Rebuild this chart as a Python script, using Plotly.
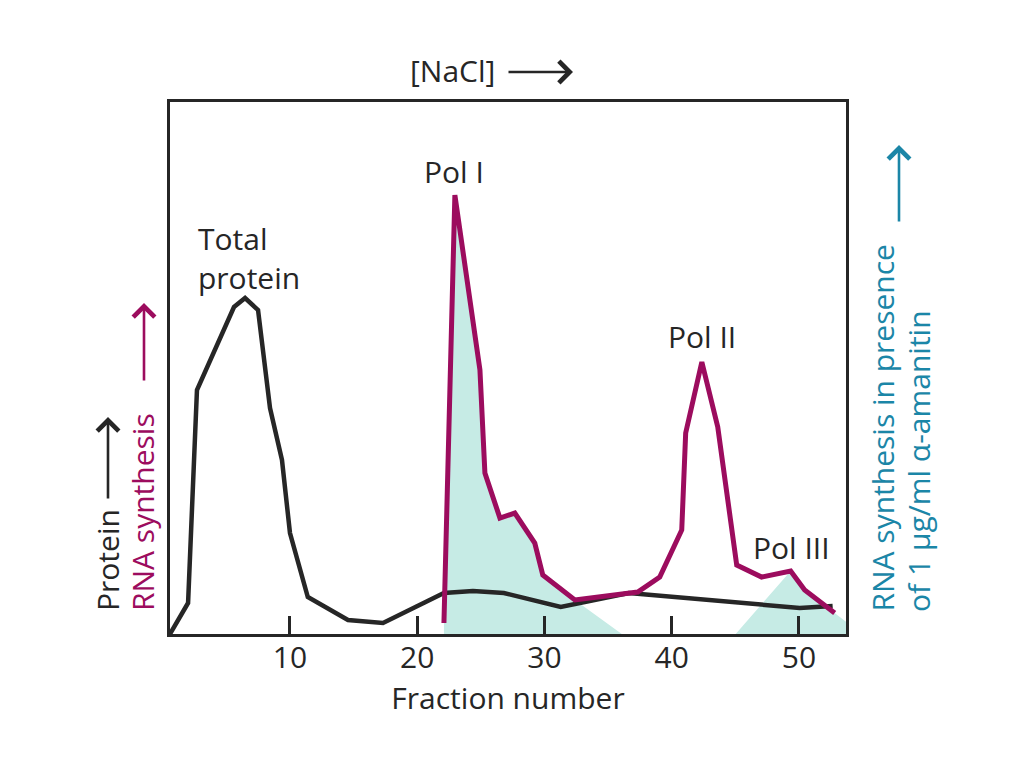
import plotly.graph_objects as go

# ---- data ----
protein_x = [0.57, 1.99, 2.69, 5.6, 6.47, 7.49, 8.43, 9.37, 10.0, 11.4, 14.56, 17.31,
             22.1, 24.38, 26.81, 31.28, 36.63, 50.06, 52.65]
protein_y = [0, 5.83, 45.86, 61.47, 63.16, 60.9, 42.48, 32.71, 18.98, 6.95, 2.63, 2.07,
             7.71, 8.08, 7.71, 5.08, 7.71, 4.89, 5.26]

rna_x = [22.1, 22.96, 24.93, 25.32, 26.5, 27.67, 29.24, 29.87, 32.39, 37.33, 39.06,
         40.79, 41.1, 42.37, 43.62, 45.11, 47.07, 49.35, 50.45, 52.81]
rna_y = [2.07, 82.52, 49.62, 30.26, 21.8, 22.74, 17.1, 11.09, 6.39, 7.89, 10.71,
         19.55, 37.78, 51.13, 38.91, 12.97, 10.71, 11.84, 8.27, 3.95]

amanitin1_x = [22.1, 22.1, 22.96, 24.93, 25.32, 26.5, 27.67, 29.24, 29.87, 32.39, 36.08]
amanitin1_y = [0, 2.07, 82.52, 49.62, 30.26, 21.8, 22.74, 17.1, 11.09, 6.39, 0]
amanitin2_x = [45.03, 49.35, 50.45, 52.81, 53.7, 53.7]
amanitin2_y = [0, 11.84, 8.27, 3.95, 2.3, 0]

tick_vals = [10, 20, 30, 40, 50]
tick_text = ["10", "20", "30", "40", "50"]

# ---- styles ----
MAGENTA = "#9C0C5E"
TEAL = "#C6EBE5"
BLUE = "#1B86A7"
DARK = "#262626"
FONT = "Open Sans"
FS = 30

fig = go.Figure()
fig.add_trace(go.Scatter(x=amanitin1_x, y=amanitin1_y, fill="toself", fillcolor=TEAL,
                         mode="none", hoverinfo="skip", showlegend=False))
fig.add_trace(go.Scatter(x=amanitin2_x, y=amanitin2_y, fill="toself", fillcolor=TEAL,
                         mode="none", hoverinfo="skip", showlegend=False))
fig.add_trace(go.Scatter(x=protein_x, y=protein_y, mode="lines",
                         line=dict(color=DARK, width=4.5), showlegend=False))
fig.add_trace(go.Scatter(x=rna_x, y=rna_y, mode="lines",
                         line=dict(color=MAGENTA, width=5), showlegend=False))

OFF = 8  # page body margin
W, H = 1024, 768
PL, PR, PT, PB = 170, 846, 102, 634  # plot area in page pixels
PW, PH = PR - PL, PB - PT
L = PL - OFF
T = PT - OFF
R = W - L - PW
B = H - T - PH


def px(x):
    return (x - PL) / PW


def py(y):
    return (PB - y) / PH


ann = []


def text(t, x, y, color=DARK, angle=0, xa="center", ya="middle", align="center"):
    ann.append(dict(text=t, x=px(x), y=py(y), xref="paper", yref="paper",
                    showarrow=False, textangle=angle, xanchor=xa, yanchor=ya,
                    align=align, font=dict(family=FONT, size=FS, color=color)))


def arrow(hx, hy, dx, dy, color=DARK):
    ann.append(dict(text="", x=px(hx), y=py(hy), xref="paper", yref="paper",
                    showarrow=True, ax=dx, ay=dy, arrowhead=4, arrowsize=1.6,
                    arrowwidth=2.6, arrowcolor=color, standoff=0, startstandoff=0))


text("[NaCl]", 452, 70)
arrow(573, 72, -66, 0)
text("Pol I", 454, 171)
text("Total<br>protein", 196, 258, xa="left", align="left")
text("Pol II", 702, 336)
text("Pol III", 791, 547)
text("Protein", 107, 613, angle=-90, ya="bottom")
arrow(108, 417, 0, 83)
text("RNA synthesis", 142, 613, color=MAGENTA, angle=-90, ya="bottom")
arrow(144, 303, 0, 79, color=MAGENTA)
text("RNA synthesis in presence", 882, 614, color=BLUE, angle=-90, ya="bottom")
text("of 1 μg/ml α-amanitin", 918, 614, color=BLUE, angle=-90, ya="bottom")
arrow(899, 145, 0, 78, color=BLUE)

fig.update_layout(
    width=W, height=H,
    margin=dict(l=L, r=R, t=T, b=B, pad=0),
    paper_bgcolor="white", plot_bgcolor="white",
    font=dict(family=FONT, size=FS, color=DARK),
    annotations=ann,
    xaxis=dict(range=[0.57, 53.7], tickvals=tick_vals, ticktext=tick_text,
               ticks="inside", ticklen=18, tickwidth=3, tickcolor=DARK,
               ticklabelstandoff=-5,
               showline=True, linewidth=3, linecolor=DARK, mirror=True,
               showgrid=False, zeroline=False,
               tickfont=dict(family=FONT, size=FS, color=DARK),
               title=dict(text="Fraction number", standoff=0,
                          font=dict(family=FONT, size=FS, color=DARK))),
    yaxis=dict(range=[0, 100], showticklabels=False, ticks="",
               showline=True, linewidth=3, linecolor=DARK, mirror=True,
               showgrid=False, zeroline=False),
)

fig.write_html("out.html")
